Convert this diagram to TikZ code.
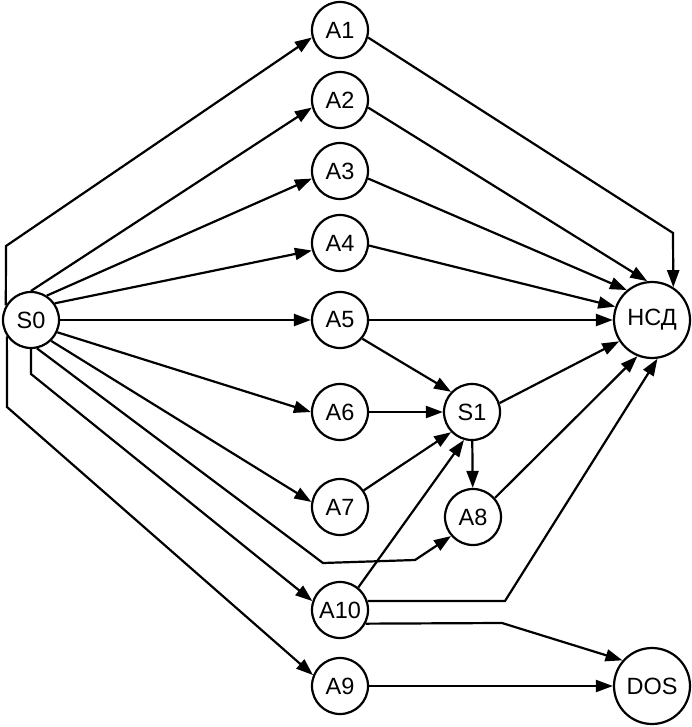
\documentclass[tikz,border=0pt]{standalone}
\usepackage{fontspec}
\setmainfont{Liberation Sans}
\usetikzlibrary{arrows.meta}
\begin{document}
\begin{tikzpicture}[x=1pt,y=-1pt,
  state/.style={draw,circle,line width=2.2pt,minimum size=56pt,inner sep=0pt,font=\fontsize{23.5}{27}\selectfont},
  bigstate/.style={state,minimum size=76pt},
  link/.style={line width=2.2pt,-{Triangle[length=17pt,width=12pt]}}]
\useasboundingbox (0,0) rectangle (691,727);

\node[state] (s0) at (31,320) {S0};
\node[state] (a1) at (340,30) {A1};
\node[state] (a2) at (340,100) {A2};
\node[state] (a3) at (340,171) {A3};
\node[state] (a4) at (340,243) {A4};
\node[state] (a5) at (340,320) {A5};
\node[state] (a6) at (340,412) {A6};
\node[state] (a7) at (340,507) {A7};
\node[state] (a10) at (340,610) {A10};
\node[state] (a9) at (340,686) {A9};
\node[state] (s1) at (472,412) {S1};
\node[state] (a8) at (473,517) {A8};
\node[bigstate] (nsd) at (652,320) {НСД};
\node[bigstate] (dos) at (652,686) {DOS};

\coordinate (b1) at (6,246);
\coordinate (b2) at (673,233);
\coordinate (b3) at (31,374);
\coordinate (b4) at (7,407);
\coordinate (b5) at (505,601);
\coordinate (b6) at (502,623);
\coordinate (b7) at (323,563);
\coordinate (b8) at (415,560);

\draw[link] (s0.150) -- (b1) -- (a1.195);
\draw[link] (s0.90) -- (a2.195);
\draw[link] (s0.57) -- (a3.195);
\draw[link] (s0.35) -- (a4.195);
\draw[link] (s0) -- (a5);
\draw[link] (s0.335) -- (a6.180);
\draw[link] (s0.314) -- (a7.170);
\draw[link] (s0.282) -- (b7) -- (b8) -- (a8.221);
\draw[link] (s0.270) -- (b3) -- (a10.162);
\draw[link] (s0.214) -- (b4) -- (a9.158);

\draw[link] (a1.345) -- (b2) -- (nsd.57);
\draw[link] (a2.345) -- (nsd.97);
\draw[link] (a3.345) -- (nsd.130);
\draw[link] (a4.355) -- (nsd.160);
\draw[link] (a5) -- (nsd);

\draw[link] (a5.320) -- (s1.136);
\draw[link] (a6) -- (s1);
\draw[link] (a7.35) -- (s1.224);
\draw[link] (a10.51) -- (s1.254);
\draw[link] (s1.18) -- (nsd.213);
\draw[link] (s1) -- (a8);
\draw[link] (a8.41) -- (nsd.248);

\draw[link] (a10.18) -- (b5) -- (nsd.278);
\draw[link] (a10.332) -- (b6) -- (dos.139);
\draw[link] (a9) -- (dos);

\end{tikzpicture}
\end{document}
